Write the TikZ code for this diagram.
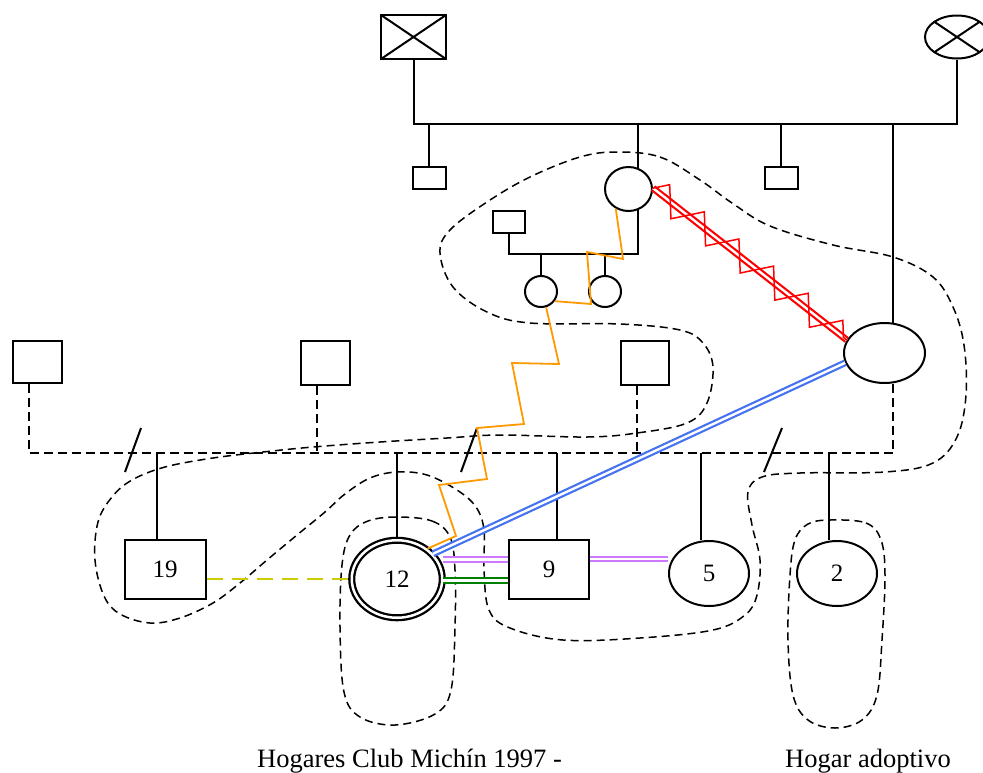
\documentclass[tikz,border=0pt]{standalone}
\usepackage{fontspec}
\setmainfont{Liberation Serif}
\usetikzlibrary{shapes.geometric,decorations.pathmorphing}
\definecolor{orng}{RGB}{255,153,0}
\definecolor{blu}{RGB}{68,114,240}
\definecolor{purp}{RGB}{204,120,255}
\definecolor{grn}{RGB}{0,128,0}
\definecolor{yel}{RGB}{204,204,0}
\newcommand{\mycapfont}{\fontsize{26.5}{30}\selectfont}
\newcommand{\mynumfont}{\fontsize{25}{30}\selectfont}
\tikzset{
  pline/.style={line width=2pt, draw=black},
  dline/.style={line width=2pt, dash pattern=on 9pt off 5pt},
  encl/.style={line width=1.5pt, dash pattern=on 8pt off 5pt},
  male/.style={draw, line width=2pt, rectangle, inner sep=0pt},
  female/.style={draw, line width=2pt, ellipse, inner sep=0pt},
  dead/.style={path picture={\draw[line width=2pt] (path picture bounding box.north west) -- (path picture bounding box.south east) (path picture bounding box.south west) -- (path picture bounding box.north east);}},
  lbl/.style={font=\mynumfont},
  dbl/.style={line width=2.2pt, double=white, double distance=2.4pt},
}
\begin{document}
\begin{tikzpicture}[x=1pt,y=-1pt]
\useasboundingbox (0,0) rectangle (983,772);

% household enclosures
\draw[encl] plot[smooth cycle, tension=0.6] coordinates {
(617,152) (660,157) (700,180) (732,203) (770,226) (833,245) (893,257) (933,277) (953,307) (964,345) (966,395) (957,437) (933,463) (885,472) (800,473) (762,477) (748,492) (752,525) (760,560) (757,595) (745,615) (713,630) (640,638) (563,640) (510,628) (489,610) (484,570) (484,530) (476,507) (457,490) (427,475) (397,472) (370,478) (345,494) (325,512) (297,535) (267,560) (240,583) (213,603) (180,618) (150,623) (120,614) (104,596) (95,560) (98,522) (112,497) (132,480) (165,467) (213,458) (263,452) (313,447) (380,442) (447,438) (500,435) (587,437) (637,433) (687,423) (707,403) (713,367) (703,343) (680,330) (620,324) (530,323) (487,312) (453,287) (440,253) (450,230) (487,202) (530,177) (580,157)};
\draw[encl] plot[smooth cycle, tension=0.6] coordinates {
(397,517) (432,521) (450,537) (455,570) (455,627) (451,690) (435,714) (395,725) (360,717) (344,692) (340,627) (342,565) (350,535) (368,521)};
\draw[encl] plot[smooth cycle, tension=0.6] coordinates {
(830,520) (866,523) (881,540) (885,575) (882,640) (877,695) (862,720) (835,728) (808,720) (793,695) (788,640) (790,575) (795,540) (808,524)};

% persons
\node[male,dead,minimum width=65pt,minimum height=44pt] (gf) at (413.5,37) {};
\node[female,dead,minimum width=64pt,minimum height=43pt] (gm) at (957,37) {};
\node[male,minimum width=33pt,minimum height=22pt] (s1) at (429,178) {};
\node[female,minimum width=47pt,minimum height=44pt] (mom) at (628.5,189) {};
\node[male,minimum width=33pt,minimum height=22pt] (s2) at (781,178) {};
\node[female,minimum width=81pt,minimum height=60pt] (bigE) at (884.5,353) {};
\node[male,minimum width=32pt,minimum height=22pt] (sp) at (509,222) {};
\node[female,minimum width=32pt,minimum height=31pt] (c1) at (541,291.5) {};
\node[female,minimum width=32pt,minimum height=31pt] (c2) at (605,291.5) {};
\node[male,minimum width=49pt,minimum height=42pt] (sqA) at (37,361.5) {};
\node[male,minimum width=49pt,minimum height=44pt] (sqB) at (325,363) {};
\node[male,minimum width=48pt,minimum height=44pt] (sqC) at (645,363) {};
\node[male,lbl,minimum width=81pt,minimum height=59pt] (b19) at (165,569.5) {19};
\node[female,lbl,double=white,double distance=2.5pt,line width=2.3pt,minimum width=90.5pt,minimum height=77.5pt] (e12) at (397,579) {12};
\node[male,lbl,minimum width=80pt,minimum height=59pt] (b9) at (549,569.5) {9};
\node[female,lbl,minimum width=80pt,minimum height=65pt] (e5) at (709,573.5) {5};
\node[female,lbl,minimum width=80pt,minimum height=65pt] (e2) at (837,573.5) {2};

% levels
\coordinate (L1) at (0,124);
\coordinate (L2) at (0,254);
\coordinate (L3) at (0,453);

% first generation
\draw[pline] (gf) -- (gf |- L1) -- (gm |- L1) -- (gm);
\coordinate (mt) at (mom.67);
\coordinate (mb) at (mom.-67);
\coordinate (bt) at (bigE.74);
\coordinate (bb) at (bigE.-74);
\draw[pline] (s1) -- (s1 |- L1);
\draw[pline] (mt) -- (mt |- L1);
\draw[pline] (s2) -- (s2 |- L1);
\draw[pline] (bt) -- (bt |- L1);
\draw[pline] (sp) -- (sp |- L2) -- (mb |- L2) -- (mb);
\draw[pline] (c1) -- (c1 |- L2);
\draw[pline] (c2) -- (c2 |- L2);

% second generation (dashed unions)
\coordinate (aA) at ([xshift=-8pt]sqA.south);
\coordinate (aB) at ([xshift=-8pt]sqB.south);
\coordinate (aC) at ([xshift=-8pt]sqC.south);
\draw[dline] (aA) -- (aA |- L3) -- (bb |- L3) -- (bb);
\draw[dline] (aB) -- (aB |- L3);
\draw[dline] (aC) -- (aC |- L3);
\draw[pline] (125,472) -- (141,428);
\draw[pline] (461,472) -- (477,428);
\draw[pline] (764,472) -- (782,428);

% children
\coordinate (k19) at ([xshift=-8pt]b19.north);
\coordinate (k9) at ([xshift=8pt]b9.north);
\coordinate (k5) at ([xshift=-8pt]e5.north);
\coordinate (k2) at ([xshift=-8pt]e2.north);
\draw[pline] (k19) -- (k19 |- L3);
\draw[pline] (e12) -- (e12 |- L3);
\draw[pline] (k9) -- (k9 |- L3);
\draw[pline] (k5) -- (k5 |- L3);
\draw[pline] (k2) -- (k2 |- L3);

% relationships
\draw[yel, line width=2pt, dash pattern=on 16pt off 9pt] (b19.east |- e12.west) -- (e12.west);
\coordinate (pu1) at ([yshift=10pt]b9.west);
\coordinate (gr1) at ([yshift=-11pt]b9.west);
\coordinate (pu2) at ([yshift=10.5pt]b9.east);
\draw[dbl, draw=purp] (e12.east |- pu1) -- (pu1);
\draw[dbl, draw=grn] (e12.east |- gr1) -- (gr1);
\draw[dbl, draw=purp] (pu2) -- (e5.west |- pu2);
\draw[dbl, draw=blu] (e12.35) -- (bigE.194);
\draw[dbl, draw=red] (mom.2) -- (bigE.161);
\draw[red, line width=1.5pt, decorate, decoration={zigzag, segment length=44pt, amplitude=13pt}] (mom.2) -- (bigE.161);
\draw[orng, line width=1.8pt] (e12.45) -- (456,536) -- (439,485) -- (487,479) -- (477,428) -- (524,424) -- (512,363) -- (559,364) -- (c1.-72);
\draw[orng, line width=1.8pt] (c1.-35) -- (591,304) -- (587,252) -- (623,259) -- (mom.-123);

% captions
\node[font=\mycapfont, anchor=base west, inner sep=0pt] (cap1) at (257,767) {Hogares Club Michín 1997 -};
\node[font=\mycapfont, anchor=base west, inner sep=0pt] (cap2) at (785,767) {Hogar adoptivo};
\end{tikzpicture}
\end{document}
